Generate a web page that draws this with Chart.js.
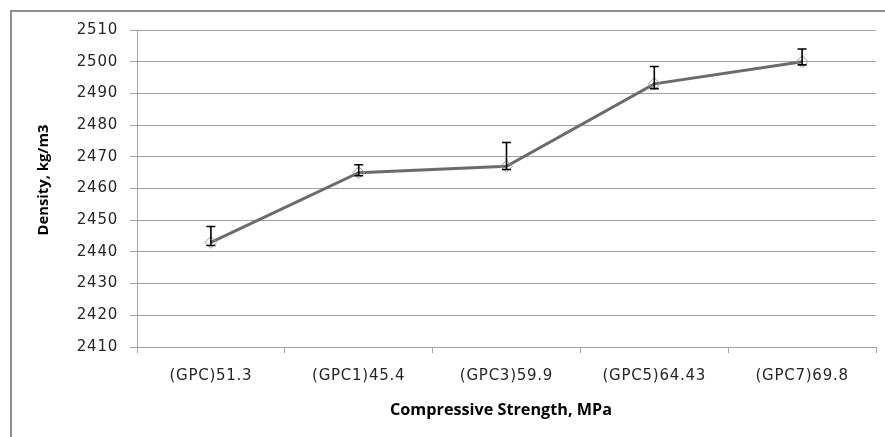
<!DOCTYPE html>
<html>
<head>
<meta charset="utf-8">
<script src="https://cdn.jsdelivr.net/npm/chart.js@4/dist/chart.umd.min.js"></script>
<style>
  html, body { margin: 0; padding: 0; background: #fff; overflow: hidden; }
  #wrap { position: relative; width: 885px; height: 437px; }
  #frame {
    position: absolute; left: 10px; top: 10px; width: 900px; height: 500px;
    border-top: 2px solid #8f8f8f; border-left: 2px solid #8f8f8f; box-sizing: border-box;
  }
  canvas { position: absolute; left: 0; top: 0; }
</style>
</head>
<body>
<div id="wrap">
  <div id="frame"></div>
  <canvas id="c" width="885" height="437"></canvas>
</div>
<script>
// Mix designs with their compressive strength
const categories = ['(GPC)51.3', '(GPC1)45.4', '(GPC3)59.9', '(GPC5)64.43', '(GPC7)69.8'];
// Mean density, kg/m3
const density = [2443, 2465, 2467, 2493, 2500];
// Error bar extents above and below the mean
const errorUp = [5, 2.5, 7.5, 5.5, 4];
const errorDown = [1, 1, 1, 1.5, 1];
// Density axis range
const yMin = 2410;
const yMax = 2510;
const yStep = 10;

const xTitle = 'Compressive Strength, MPa';
const yTitle = 'Density, kg/m3';

const gridColor = '#a3a3a3';
const tickSpacing = '0.75px';

const spacingPlugin = {
  id: 'spacing',
  beforeUpdate(chart) { chart.ctx.letterSpacing = tickSpacing; },
  beforeLayout(chart) { chart.ctx.letterSpacing = tickSpacing; },
  beforeDraw(chart) { chart.ctx.letterSpacing = tickSpacing; }
};

const errorBarPlugin = {
  id: 'errorBars',
  afterDatasetsDraw(chart) {
    const ctx = chart.ctx;
    const ys = chart.scales.y;
    const meta = chart.getDatasetMeta(0);
    ctx.save();
    ctx.strokeStyle = '#000';
    ctx.lineWidth = 1.6;
    meta.data.forEach((pt, i) => {
      const x = pt.x;
      const top = ys.getPixelForValue(density[i] + errorUp[i]);
      const bot = ys.getPixelForValue(density[i] - errorDown[i]);
      ctx.beginPath();
      ctx.moveTo(x, top); ctx.lineTo(x, bot);
      ctx.moveTo(x - 4.5, top); ctx.lineTo(x + 4.5, top);
      ctx.moveTo(x - 4.5, bot); ctx.lineTo(x + 4.5, bot);
      ctx.stroke();
    });
    ctx.restore();
  }
};

// Axis titles: wide, slightly stretched bold lettering
const titlePlugin = {
  id: 'axisTitles',
  afterDraw(chart) {
    const ctx = chart.ctx;
    ctx.save();
    ctx.fillStyle = '#000';
    ctx.textAlign = 'center';
    ctx.textBaseline = 'middle';
    ctx.letterSpacing = '0px';

    ctx.font = 'bold 16px "Open Sans"';
    const wx = ctx.measureText(xTitle).width;
    ctx.save();
    ctx.translate(501, 410);
    ctx.scale(222 / wx, 1);
    ctx.fillText(xTitle, 0, 0);
    ctx.restore();

    ctx.font = 'bold 13px "Open Sans"';
    const wy = ctx.measureText(yTitle).width;
    ctx.save();
    ctx.translate(44, 180);
    ctx.rotate(-Math.PI / 2);
    ctx.scale(111 / wy, 1.15);
    ctx.fillText(yTitle, 0, 0);
    ctx.restore();

    ctx.restore();
  }
};

new Chart(document.getElementById('c'), {
  type: 'line',
  data: {
    labels: categories,
    datasets: [{
      data: density,
      borderColor: '#6b6b6b',
      borderWidth: 3,
      tension: 0,
      pointStyle: 'rectRot',
      pointRadius: 6,
      pointBorderWidth: 1,
      pointBorderColor: '#9a9a9a',
      pointBackgroundColor: 'rgba(255,255,255,0)',
      pointHoverRadius: 6
    }]
  },
  options: {
    responsive: false,
    animation: false,
    devicePixelRatio: 1,
    events: [],
    layout: { padding: { top: 30, right: 9, left: 0, bottom: 0 } },
    plugins: { legend: { display: false }, tooltip: { enabled: false } },
    scales: {
      x: {
        type: 'category',
        offset: true,
        afterFit(scale) { scale.height = 90; },
        grid: { offset: true, drawOnChartArea: false, drawTicks: true, tickLength: 6, color: gridColor },
        border: { color: gridColor, width: 1 },
        ticks: {
          autoSkip: false, maxRotation: 0, padding: 14,
          color: '#262626', font: { family: 'DejaVu Sans', size: 15 }
        }
      },
      y: {
        min: yMin,
        max: yMax,
        afterFit(scale) { scale.width = 137; },
        grid: { color: gridColor, tickLength: 7, drawTicks: true },
        border: { color: gridColor, width: 1 },
        ticks: {
          stepSize: yStep, padding: 12,
          callback: (v) => String(v),
          color: '#262626', font: { family: 'DejaVu Sans', size: 15 }
        }
      }
    }
  },
  plugins: [spacingPlugin, errorBarPlugin, titlePlugin]
});
</script>
</body>
</html>
